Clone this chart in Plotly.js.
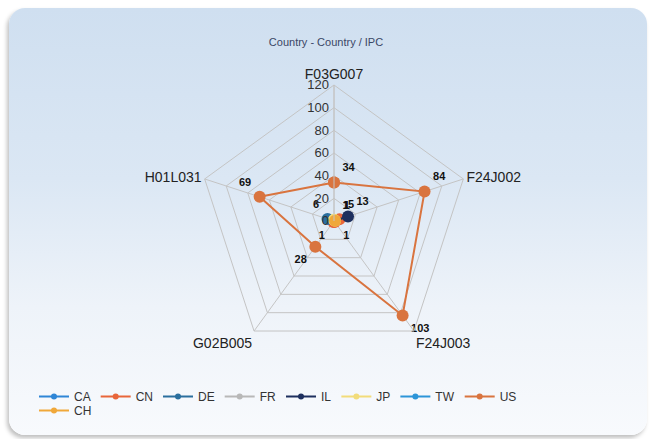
<!DOCTYPE html>
<html>
<head>
<meta charset="utf-8">
<script src="https://cdn.plot.ly/plotly-3.0.1.min.js"></script>
<style>
  html, body { margin: 0; padding: 0; background: #ffffff; }
  #wrap { position: relative; width: 652px; height: 439px; overflow: hidden; }
  #card { position: absolute; left: 9px; top: 8px; width: 638px; height: 427px;
          border-radius: 16px;
          background: linear-gradient(to bottom, #cfdff0 0%, #dbe7f4 40%, #eef3f9 70%, #f8fafd 100%);
          box-shadow: -2px 3px 4px rgba(0,0,0,0.25); }
  #chart { position: absolute; left: 0; top: 0; width: 652px; height: 439px; }
</style>
</head>
<body>
<div id="wrap"><div id="card"></div><div id="chart"></div></div>
<script>
var categories = ['F03G007', 'F24J002', 'F24J003', 'G02B005', 'H01L031'];
var seriesNames = ['CA', 'CN', 'DE', 'FR', 'IL', 'JP', 'TW', 'US', 'CH'];
var CA = [0, 0, 0, 0, 0];
var CN = [0, 5, 1, 1, 0];
var DE = [0, 0, 0, 0, 6];
var FR = [0, 0, 0, 0, 0];
var IL = [0, 13, 0, 0, 0];
var JP = [1, 1, 0, 0, 0];
var TW = [0, 0, 0, 0, 0];
var US = [34, 84, 103, 28, 69];
var CH = [0, 1, 0, 0, 0];
var seriesValues = [CA, CN, DE, FR, IL, JP, TW, US, CH];
var colors = ['#2f86d6', '#e8663a', '#2a6f9e', '#b8b8b8', '#1d2f5e', '#f2dc7a', '#2c95d8', '#d9743f', '#f0a83a'];
var labelPos = ['top right', 'top right', 'bottom right', 'bottom left', 'top left'];

var traces = seriesNames.map(function (name, i) {
  var v = seriesValues[i];
  return {
    type: 'scatterpolar',
    name: name,
    showlegend: false,
    r: v.concat([v[0]]),
    theta: categories.concat([categories[0]]),
    mode: 'lines+markers+text',
    text: v.map(String).concat(['']),
    textposition: labelPos.concat(['top right']),
    textfont: { family: 'Liberation Sans, Arial, sans-serif', size: 11, color: '#111', weight: 'bold' },
    line: { color: colors[i], width: 2 },
    marker: { color: colors[i], size: 12 },
    cliponaxis: false,
    hoverinfo: 'name+r+theta'
  };
});
// legend entries (small markers like the reference legend)
seriesNames.forEach(function (name, i) {
  traces.push({
    type: 'scatterpolar',
    name: name,
    r: [null],
    theta: [categories[0]],
    mode: 'lines+markers',
    line: { color: colors[i], width: 2 },
    marker: { color: colors[i], size: 6 },
    legend: name === 'CH' ? 'legend2' : 'legend',
    hoverinfo: 'skip'
  });
});

var cx = 334, cy = 221, R = 136, W = 652, H = 439;
var legendFont = { size: 12, color: '#333' };
var layout = {
  width: W, height: H,
  margin: { l: 0, r: 0, t: 0, b: 0 },
  paper_bgcolor: 'rgba(0,0,0,0)',
  plot_bgcolor: 'rgba(0,0,0,0)',
  font: { family: 'Liberation Sans, Arial, sans-serif', color: '#333' },
  title: { text: 'Country - Country / IPC', x: 0.5, xanchor: 'center', y: 1 - 42 / H, yanchor: 'middle',
           font: { size: 11, color: '#3b4766' } },
  showlegend: true,
  legend: { orientation: 'h', x: 34 / W, xanchor: 'left', y: 1 - 382 / H, yanchor: 'top',
            font: legendFont, bgcolor: 'rgba(0,0,0,0)', itemwidth: 30, tracegroupgap: 0 },
  legend2: { orientation: 'h', x: 34 / W, xanchor: 'left', y: 1 - 396 / H, yanchor: 'top',
             font: legendFont, bgcolor: 'rgba(0,0,0,0)', itemwidth: 30 },
  polar: {
    domain: { x: [(cx - R) / W, (cx + R) / W], y: [(H - cy - R) / H, (H - cy + R) / H] },
    bgcolor: 'rgba(0,0,0,0)',
    gridshape: 'linear',
    angularaxis: {
      rotation: 90, direction: 'clockwise',
      categoryorder: 'array', categoryarray: categories,
      tickfont: { size: 14, color: '#222' },
      showline: true, linecolor: '#c4c4c4', linewidth: 1,
      gridcolor: '#c4c4c4', ticks: ''
    },
    radialaxis: {
      range: [0, 120], dtick: 20, angle: 90, tickangle: 90,
      side: 'counterclockwise',
      tickfont: { size: 13, color: '#333' },
      showline: true, linecolor: '#c4c4c4', gridcolor: '#c4c4c4', ticks: ''
    }
  }
};

Plotly.newPlot('chart', traces, layout, { displayModeBar: false, staticPlot: true });
</script>
</body>
</html>
